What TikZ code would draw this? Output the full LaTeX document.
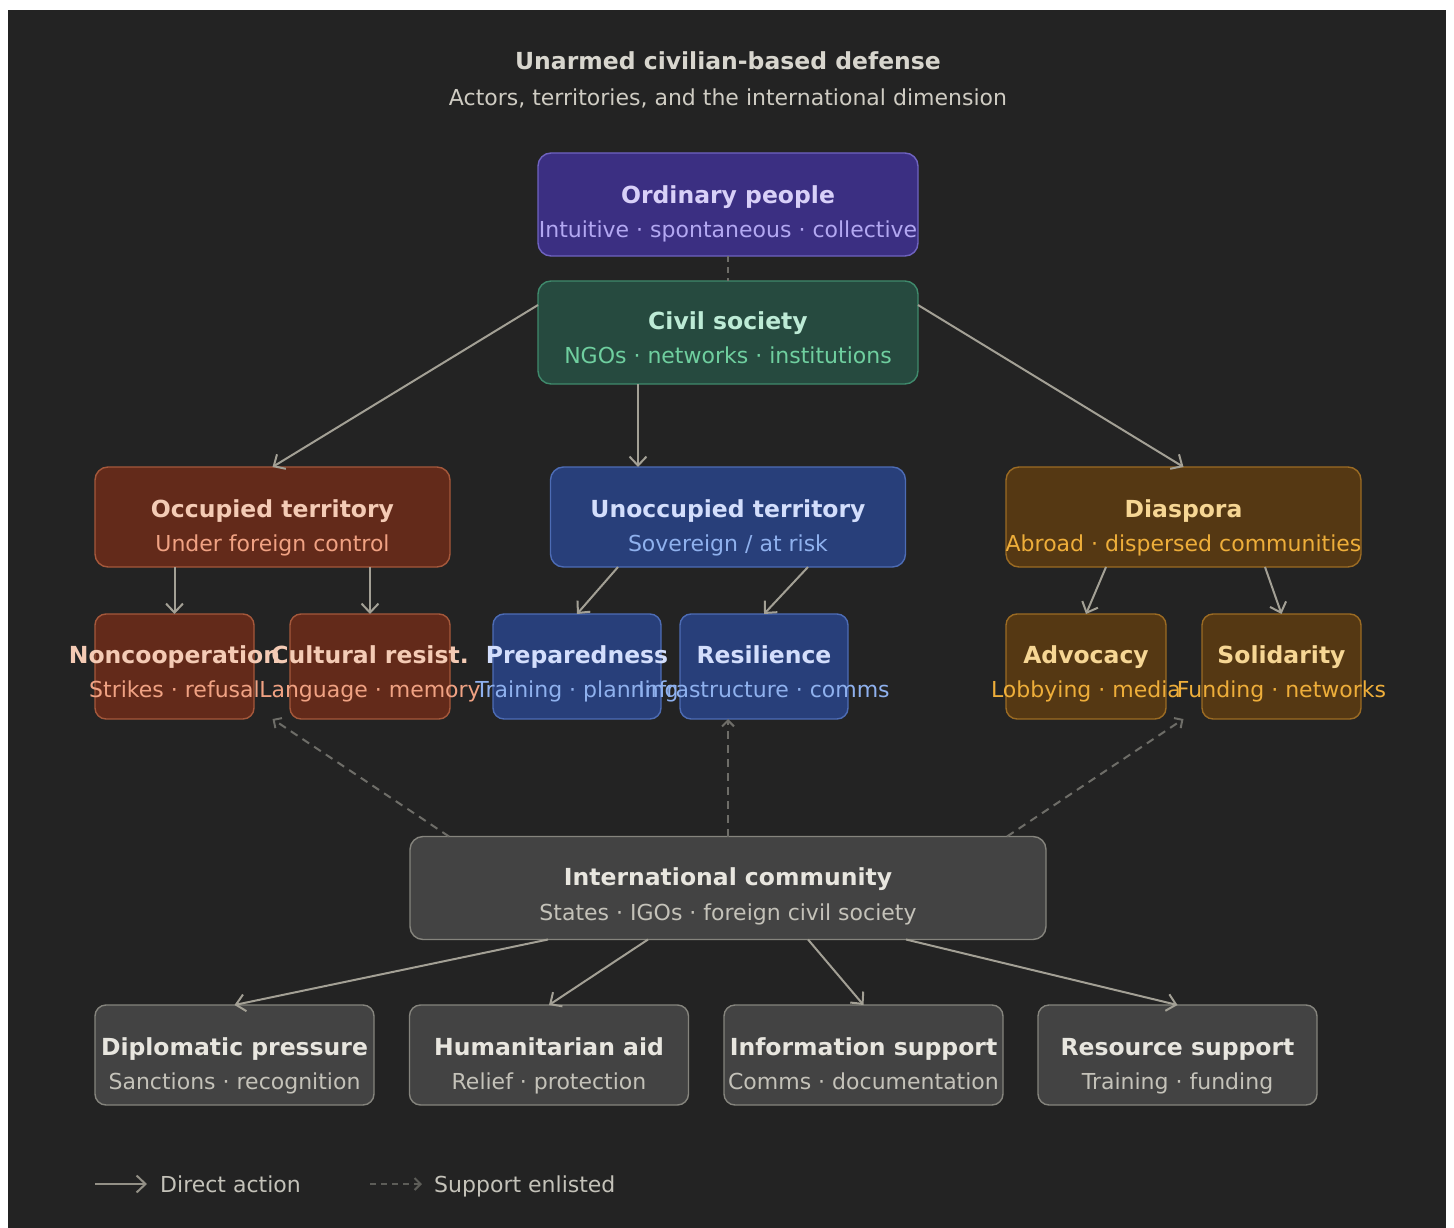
\documentclass[tikz,border=0pt]{standalone}
\usepackage{fontspec}
\setmainfont{DejaVu Sans}
\usetikzlibrary{arrows.meta,calc}
\definecolor{bgdark}{HTML}{232323}
\definecolor{conn}{HTML}{A3A095}
\definecolor{dconn}{HTML}{6E6D68}
\definecolor{ttl}{HTML}{D8D6CE}
\definecolor{sttl}{HTML}{CFCCC3}
\definecolor{opfill}{HTML}{3B2F82}\definecolor{opdraw}{HTML}{6F63C0}\definecolor{opt}{HTML}{D8D0F8}\definecolor{ops}{HTML}{B3A8F2}
\definecolor{csfill}{HTML}{264A3F}\definecolor{csdraw}{HTML}{3F8A6C}\definecolor{cst}{HTML}{BDEBD6}\definecolor{css}{HTML}{6FCF9F}
\definecolor{ocfill}{HTML}{632A1A}\definecolor{ocdraw}{HTML}{A5583B}\definecolor{oct}{HTML}{F4CBB5}\definecolor{ocs}{HTML}{F0A283}
\definecolor{unfill}{HTML}{283F7A}\definecolor{undraw}{HTML}{4D6CB5}\definecolor{unt}{HTML}{D3DEFC}\definecolor{uns}{HTML}{8FB1EE}
\definecolor{difill}{HTML}{553813}\definecolor{didraw}{HTML}{9B6B23}\definecolor{dit}{HTML}{F6D694}\definecolor{dis}{HTML}{EEAE3A}
\definecolor{icfill}{HTML}{434343}\definecolor{icdraw}{HTML}{85847D}\definecolor{ict}{HTML}{E8E6DF}\definecolor{ics}{HTML}{C4C2B9}
\tikzset{
  box/.style={rectangle, rounded corners=13pt, line width=1.4pt, inner sep=0pt, outer sep=0pt},
  opbox/.style={box, fill=opfill, draw=opdraw},
  csbox/.style={box, fill=csfill, draw=csdraw},
  ocbox/.style={box, fill=ocfill, draw=ocdraw},
  unbox/.style={box, fill=unfill, draw=undraw},
  dibox/.style={box, fill=difill, draw=didraw},
  icbox/.style={box, fill=icfill, draw=icdraw},
  big/.style={minimum width=380pt, minimum height=103pt},
  mid/.style={minimum width=355pt, minimum height=100pt},
  small/.style={minimum width=160pt, minimum height=105pt, rounded corners=11pt},
  bot/.style={minimum width=279pt, minimum height=100pt, rounded corners=11pt},
  tt/.style={anchor=base, inner sep=0pt, font=\fontsize{23.5}{28}\selectfont\bfseries},
  st/.style={anchor=base, inner sep=0pt, font=\fontsize{22}{26}\selectfont},
  arr/.style={draw=conn, line width=2pt, -{Straight Barb[length=9pt,width=17pt,line width=2pt]}},
  darr/.style={draw=dconn, line width=2pt, dash pattern=on 8pt off 6pt, -{Straight Barb[length=6pt,width=12pt,line width=2pt]}},
  dline/.style={draw=dconn, line width=2pt, dash pattern=on 6pt off 5pt},
}
\begin{document}
\begin{tikzpicture}[x=1pt,y=-1pt]
\useasboundingbox (0,0) rectangle (1454,1228);
\fill[white] (0,0) rectangle (1454,1228);
\fill[bgdark] (8,10) rectangle (1446,1228);

% titles
\node[tt, text=ttl] (t1) at (728,70) {Unarmed civilian-based defense};
\node[st, text=sttl] (t2) at (728,106) {Actors, territories, and the international dimension};

% boxes
\node[opbox, big] (op) at (728,204.5) {};
\node[csbox, big] (cs) at (728,332.5) {};
\node[ocbox, mid] (oc) at (272.5,517) {};
\node[unbox, mid] (un) at (728,517) {};
\node[dibox, mid] (di) at (1183.5,517) {};
\node[ocbox, small, minimum width=159pt] (nc) at (174.5,666.5) {};
\node[ocbox, small] (cr) at (370,666.5) {};
\node[unbox, small, minimum width=168pt] (pr) at (577,666.5) {};
\node[unbox, small, minimum width=168pt] (re) at (764,666.5) {};
\node[dibox, small] (ad) at (1086,666.5) {};
\node[dibox, small, minimum width=159pt] (so) at (1281.5,666.5) {};
\node[icbox, minimum width=636pt, minimum height=103pt, rounded corners=13pt] (ic) at (728,888) {};
\node[icbox, bot] (dp) at (234.5,1055) {};
\node[icbox, bot] (ha) at (549,1055) {};
\node[icbox, bot] (is) at (863.5,1055) {};
\node[icbox, bot] (rs) at (1177.5,1055) {};

% box texts
\node[tt, text=opt] (opT) at (728,203) {Ordinary people};
\node[st, text=ops] (opS) at (728,237) {Intuitive · spontaneous · collective};
\node[tt, text=cst] (csT) at (728,329) {Civil society};
\node[st, text=css] (csS) at (728,363) {NGOs · networks · institutions};
\node[tt, text=oct] (ocT) at (272.5,517) {Occupied territory};
\node[st, text=ocs] (ocS) at (272.5,551) {Under foreign control};
\node[tt, text=unt] (unT) at (728,517) {Unoccupied territory};
\node[st, text=uns] (unS) at (728,551) {Sovereign / at risk};
\node[tt, text=dit] (diT) at (1183.5,517) {Diaspora};
\node[st, text=dis] (diS) at (1183.5,551) {Abroad · dispersed communities};
\node[tt, text=oct] (ncT) at (174.5,663) {Noncooperation};
\node[st, text=ocs] (ncS) at (174.5,697) {Strikes · refusal};
\node[tt, text=oct] (crT) at (370,663) {Cultural resist.};
\node[st, text=ocs] (crS) at (370,697) {Language · memory};
\node[tt, text=unt] (prT) at (577,663) {Preparedness};
\node[st, text=uns] (prS) at (577,697) {Training · planning};
\node[tt, text=unt] (reT) at (764,663) {Resilience};
\node[st, text=uns] (reS) at (764,697) {Infrastructure · comms};
\node[tt, text=dit] (adT) at (1086,663) {Advocacy};
\node[st, text=dis] (adS) at (1086,697) {Lobbying · media};
\node[tt, text=dit] (soT) at (1281.5,663) {Solidarity};
\node[st, text=dis] (soS) at (1281.5,697) {Funding · networks};
\node[tt, text=ict] (icT) at (728,885) {International community};
\node[st, text=ics] (icS) at (728,920) {States · IGOs · foreign civil society};
\node[tt, text=ict] (dpT) at (234.5,1055) {Diplomatic pressure};
\node[st, text=ics] (dpS) at (234.5,1089) {Sanctions · recognition};
\node[tt, text=ict] (haT) at (549,1055) {Humanitarian aid};
\node[st, text=ics] (haS) at (549,1089) {Relief · protection};
\node[tt, text=ict] (isT) at (863.5,1055) {Information support};
\node[st, text=ics] (isS) at (863.5,1089) {Comms · documentation};
\node[tt, text=ict] (rsT) at (1177.5,1055) {Resource support};
\node[st, text=ics] (rsS) at (1177.5,1089) {Training · funding};

% connectors
\draw[dline] (op.south) -- (cs.north);
\draw[arr] ([yshift=27.5pt]cs.west) -- (oc.north);
\draw[arr] ([xshift=-90pt]cs.south) -- ([xshift=-90pt]un.north);
\draw[arr] ([yshift=27.5pt]cs.east) -- (di.north);
\draw[arr] (oc.south -| nc.north) -- (nc.north);
\draw[arr] (oc.south -| cr.north) -- (cr.north);
\draw[arr] ([xshift=-110pt]un.south) -- (pr.north);
\draw[arr] ([xshift=80pt]un.south) -- (re.north);
\draw[arr] ([xshift=-77.5pt]di.south) -- (ad.north);
\draw[arr] ([xshift=81.5pt]di.south) -- (so.north);

\coordinate (tOc) at (oc.south |- nc.south);
\coordinate (tUn) at (ic.north |- re.south);
\coordinate (tDi) at (di.south |- ad.south);
\draw[darr] ([xshift=-279pt]ic.north) -- (tOc);
\draw[darr] (ic.north) -- (tUn);
\draw[darr] ([xshift=279pt]ic.north) -- (tDi);

\draw[arr] ([xshift=-180pt]ic.south) -- (dp.north);
\draw[arr] ([xshift=-80pt]ic.south) -- (ha.north);
\draw[arr] ([xshift=80pt]ic.south) -- (is.north);
\draw[arr] ([xshift=178pt]ic.south) -- (rs.north);

% legend
\coordinate (l1a) at (95,1184);
\coordinate (l1b) at (147,1184);
\coordinate (l2a) at (370,1184);
\coordinate (l2b) at (422,1184);
\draw[arr, draw=conn!90!black] (l1a) -- (l1b);
\draw[darr, draw=dconn!85!black, dash pattern=on 6pt off 5pt] (l2a) -- (l2b);
\node[st, anchor=base west, text=ics] (lg1) at (160,1192) {Direct action};
\node[st, anchor=base west, text=ics] (lg2) at (434,1192) {Support enlisted};
\end{tikzpicture}
\end{document}
